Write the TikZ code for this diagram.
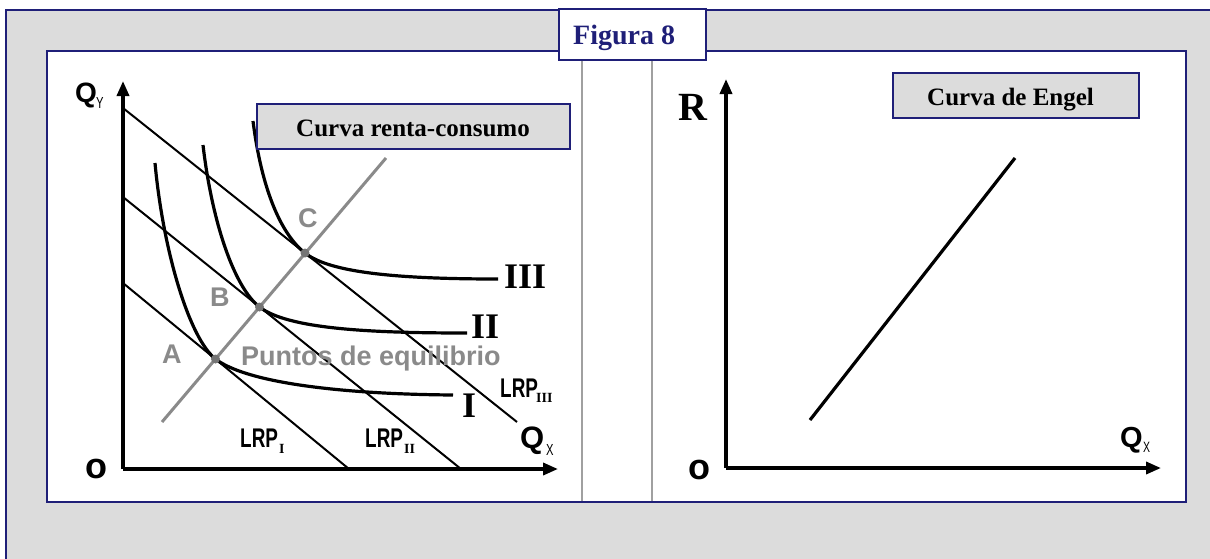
\documentclass[tikz,border=0pt]{standalone}
\usepackage{fontspec}
\setmainfont{Liberation Serif}
\newfontfamily\sansf{Liberation Sans}
\newfontfamily\narrowf[FakeStretch=0.7]{Liberation Sans}
\usetikzlibrary{arrows.meta}
\definecolor{navy}{HTML}{1F1F78}
\definecolor{panelgrey}{HTML}{DCDCDC}
\definecolor{ptgrey}{HTML}{8A8A8A}
\definecolor{sepgrey}{HTML}{A0A0A0}
\newcommand{\myfs}[1]{\fontsize{#1}{#1}\selectfont}
\begin{document}
\begin{tikzpicture}[x=1pt,y=-1pt,
  axisline/.style={line width=3.5pt,-{Triangle[length=15pt,width=12pt]}},
  budget/.style={line width=2pt},
  indiff/.style={line width=3.2pt},
  icc/.style={line width=3pt,color=ptgrey},
  lbl/.style={inner sep=0pt,anchor=base west},
  titlebox/.style={draw=navy,line width=1.5pt,fill=panelgrey},
  ptlbl/.style={lbl,text=ptgrey,font=\sansf\bfseries\myfs{27}},
  roman/.style={lbl,font=\bfseries\myfs{36}},
  lrp/.style={lbl,font=\narrowf\bfseries\myfs{27}},
  lrpsub/.style={lbl,font=\bfseries\myfs{14}}]
\useasboundingbox (0,0) rectangle (1210,558);
% outer frame
\draw[navy,line width=1.5pt,fill=panelgrey] (6,10) rectangle (1230,580);
% white panel
\draw[navy,line width=2pt,fill=white] (47,51) rectangle (1186,502);
\coordinate (s1t) at (582,52); \coordinate (s1b) at (582,501);
\coordinate (s2t) at (652,52); \coordinate (s2b) at (652,501);
\draw[sepgrey,line width=2pt] (s1t) -- (s1b);
\draw[sepgrey,line width=2pt] (s2t) -- (s2b);

% ---------- left graph ----------
\coordinate (O1) at (123,469);
\coordinate (Y1) at (123,81);
\coordinate (X1) at (558,469);
\coordinate (L3a) at (123,108); \coordinate (L3b) at (517,422);
\coordinate (L2a) at (123,197); \coordinate (L2b) at (461,469);
\coordinate (L1a) at (123,283); \coordinate (L1b) at (349,469);
\coordinate (Ia) at (162,422); \coordinate (Ib) at (386,158);
\coordinate (A) at (215.5,359);
\coordinate (B) at (259.5,307);
\coordinate (C) at (305,253);

\draw[budget] (L3a) -- (L3b);
\draw[budget] (L2a) -- (L2b);
\draw[budget] (L1a) -- (L1b);

\coordinate (I1t) at (155,163); \coordinate (I1e) at (453,395);
\coordinate (I2t) at (203,145); \coordinate (I2e) at (467,333);
\coordinate (I3t) at (253,121); \coordinate (I3e) at (498,279);
\draw[indiff] (I1t) .. controls (163,250) and (189,338) .. (A)
  .. controls (244,381) and (330,394) .. (I1e);
\draw[indiff] (I2t) .. controls (212,222) and (234,287) .. (B)
  .. controls (288,329) and (370,333) .. (I2e);
\draw[indiff] (I3t) .. controls (262,192) and (282,235) .. (C)
  .. controls (330,273) and (400,279) .. (I3e);

\draw[icc] (Ia) -- (Ib);
\foreach \p in {A,B,C} \fill[ptgrey!85!black] (\p) circle (4.5);

\draw[axisline] (O1) -- (Y1);
\draw[axisline] (O1) -- (X1);

\node[lbl,font=\sansf\bfseries\myfs{28}] (qy) at (75,102) {Q};
\node[lbl,font=\narrowf\myfs{16}] (qys) at (96,108) {Y};
\node[lbl,font=\sansf\bfseries\myfs{36}] (o1) at (85,478) {o};
\node[lbl,font=\sansf\bfseries\myfs{31}] (qx1) at (520,448) {Q};
\node[lbl,font=\narrowf\myfs{16}] (qx1s) at (546,455) {X};

\node[ptlbl] (la) at (162,363) {A};
\node[ptlbl] (lb) at (210,306) {B};
\node[ptlbl] (lc) at (298,227) {C};
\node[ptlbl] (pe) at (241,365) {Puntos de equilibrio};

\node[roman] (r3) at (504,288) {III};
\node[roman] (r2) at (471,338) {II};
\node[roman] (r1) at (462,417) {I};

\node[lrp] (lrp1) at (240,447) {LRP};
\node[lrpsub] (lrp1s) at (279,453) {I};
\node[lrp] (lrp2) at (365,447) {LRP};
\node[lrpsub] (lrp2s) at (404,453) {II};
\node[lrp] (lrp3) at (500,397) {LRP};
\node[lrpsub] (lrp3s) at (536,402) {III};

\node[titlebox,minimum width=313pt,minimum height=45pt,inner sep=0pt] (crc) at (413.5,126.5) {};
\node[lbl,font=\bfseries\myfs{25}] (crct) at (296,136) {Curva renta-consumo};

% ---------- right graph ----------
\coordinate (O2) at (726,468);
\coordinate (Y2) at (726,79);
\coordinate (X2) at (1161,468);
\draw[axisline] (O2) -- (Y2);
\draw[axisline] (O2) -- (X2);
\coordinate (E1) at (810,420); \coordinate (E2) at (1015,158);
\draw[line width=3.2pt] (E1) -- (E2);

\node[lbl,font=\bfseries\myfs{40}] (rl) at (678,120) {R};
\node[lbl,font=\sansf\bfseries\myfs{36}] (o2) at (688,479) {o};
\node[lbl,font=\sansf\bfseries\myfs{29}] (qx2) at (1120,447) {Q};
\node[lbl,font=\narrowf\myfs{15}] (qx2s) at (1143,452) {X};

\node[titlebox,minimum width=246pt,minimum height=45pt,inner sep=0pt] (ceb) at (1016,95.5) {};
\node[lbl,font=\bfseries\myfs{25}] (cebt) at (927,105) {Curva de Engel};

% ---------- title ----------
\node[draw=navy,line width=1.8pt,fill=white,minimum width=147pt,minimum height=51pt,inner sep=0pt] (fig) at (632.5,34.5) {};
\node[lbl,text=navy,font=\bfseries\myfs{28}] (figt) at (573,44) {Figura 8};
\end{tikzpicture}
\end{document}
